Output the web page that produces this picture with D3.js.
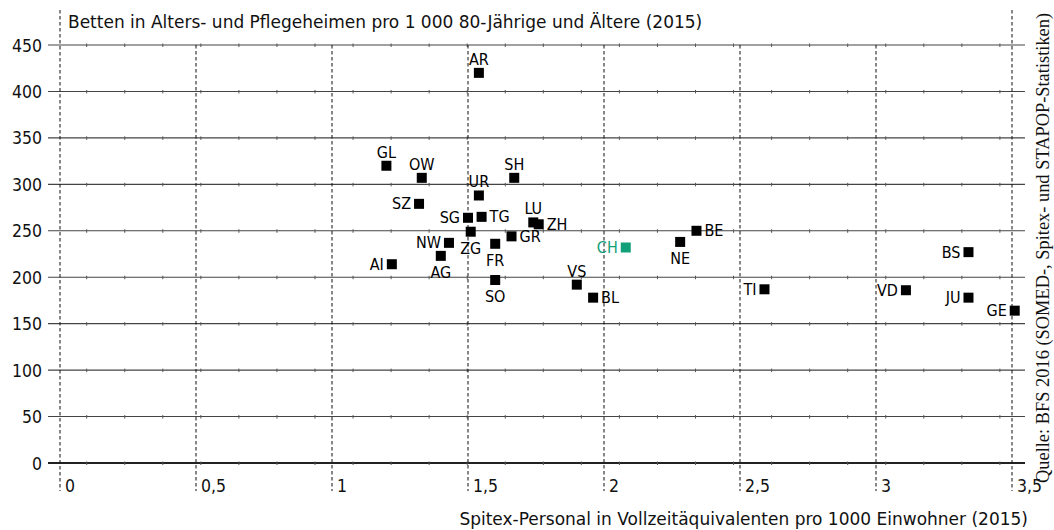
<!DOCTYPE html>
<html>
<head>
<meta charset="utf-8">
<script src="https://cdn.jsdelivr.net/npm/d3@7"></script>
<style>
  body { margin: 0; background: #fff; }
  svg { display: block; }
  text { font-family: "DejaVu Sans Condensed", "DejaVu Sans", sans-serif; fill: #111; }
</style>
</head>
<body>
<div id="chart"></div>
<script>
// Daten (Kantone)
const kantone = ["AR","GL","OW","SH","UR","SZ","SG","TG","LU","ZH","ZG","GR","NW","FR","CH","AG","AI","SO","VS","BL","BE","NE","TI","BS","VD","JU","GE"];
const spitex  = [1.54,1.20,1.33,1.67,1.54,1.32,1.50,1.55,1.74,1.76,1.51,1.66,1.43,1.60,2.08,1.40,1.22,1.60,1.90,1.96,2.34,2.28,2.59,3.34,3.11,3.34,3.51];
const betten  = [420,320,307,307,288,279,264,265,259,257,249,244,237,236,232,223,214,197,192,178,250,238,187,227,186,178,164];
// wo steht die Beschriftung (t = oben, b = unten, l = links, r = rechts)
const lage    = ["t","t","t","t","t","l","l","r","t","r","b","r","l","b","l","b","l","b","t","r","r","b","l","l","l","l","l"];

const xTicks = [0, 0.5, 1, 1.5, 2, 2.5, 3, 3.5];
const yTicks = [0, 50, 100, 150, 200, 250, 300, 350, 400, 450];

const titelY = "Betten in Alters- und Pflegeheimen pro 1 000 80-Jährige und Ältere (2015)";
const titelX = "Spitex-Personal in Vollzeitäquivalenten pro 1000 Einwohner (2015)";
const quelle = "Quelle: BFS 2016 (SOMED-, Spitex- und STAPOP-Statistiken)";

const largeur = 1054, hauteur = 530;
const svg = d3.select("#chart").append("svg")
  .attr("width", largeur).attr("height", hauteur);

const x = d3.scaleLinear().domain([0, 3.5]).range([60, 1012]);
const y = d3.scaleLinear().domain([0, 450]).range([463, 45]);
const fmt = d => String(d).replace(".", ",");

// horizontale Linien
const gridY = svg.append("g");
gridY.selectAll("line").data(yTicks).join("line")
  .attr("x1", 48).attr("x2", 1025)
  .attr("y1", d => y(d)).attr("y2", d => y(d))
  .attr("stroke", d => d === 0 ? "#222" : "#444")
  .attr("stroke-width", d => d === 0 ? 1.8 : 1.1);

// kleine Striche auf den Linien
const striche = d3.range(86.7, 1025, 38.05);
yTicks.forEach(t => {
  gridY.append("g").selectAll("line").data(striche).join("line")
    .attr("x1", d => d).attr("x2", d => d)
    .attr("y1", y(t) - 1.5).attr("y2", y(t) + 2)
    .attr("stroke", "#555").attr("stroke-width", 1);
});

// vertikale gestrichelte Linien
svg.append("g").selectAll("line").data(xTicks).join("line")
  .attr("x1", d => x(d)).attr("x2", d => x(d))
  .attr("y1", d => (d === 0 || d === 3.5) ? 10 : y(450))
  .attr("y2", 491)
  .attr("stroke", "#111").attr("stroke-width", 1)
  .attr("stroke-dasharray", "3.5,2.5");

// Achsenbeschriftung
svg.append("g").selectAll("text").data(yTicks).join("text")
  .attr("x", 42).attr("y", d => y(d) + 6.5)
  .attr("text-anchor", "end")
  .style("font-size", "17.5px")
  .text(d => d);

svg.append("g").selectAll("text").data(xTicks).join("text")
  .attr("x", d => x(d) + 5).attr("y", 492)
  .style("font-size", "17.5px")
  .text(fmt);

svg.append("text")
  .attr("x", 68).attr("y", 28)
  .style("font-family", "'DejaVu Sans', sans-serif")
  .style("font-size", "17px")
  .text(titelY);

svg.append("text")
  .attr("x", 1028).attr("y", 525)
  .attr("text-anchor", "end")
  .style("font-family", "'DejaVu Sans', sans-serif")
  .style("font-size", "17px")
  .text(titelX);

// Quelle, senkrecht am rechten Rand
svg.append("text")
  .attr("transform", "translate(1049,483) rotate(-90)")
  .attr("text-anchor", "start")
  .style("font-family", "'Liberation Serif', 'Times New Roman', serif")
  .style("font-size", "18.4px")
  .text(quelle);

// Punkte
const donnees = kantone.map((k, i) => ({ k, sx: spitex[i], b: betten[i], pos: lage[i] }));
const farbe = d => d.k === "CH" ? "#12a078" : "#000";

svg.append("g").selectAll("rect").data(donnees).join("rect")
  .attr("x", d => x(d.sx) - 5).attr("y", d => y(d.b) - 5)
  .attr("width", 10).attr("height", 10)
  .attr("fill", farbe);

svg.append("g").selectAll("text").data(donnees).join("text")
  .attr("x", d => d.pos === "l" ? x(d.sx) - 8 : d.pos === "r" ? x(d.sx) + 8 : x(d.sx))
  .attr("y", d => d.pos === "t" ? y(d.b) - 8 : d.pos === "b" ? y(d.b) + 22 : y(d.b) + 5.5)
  .attr("text-anchor", d => d.pos === "l" ? "end" : d.pos === "r" ? "start" : "middle")
  .style("font-size", "16px")
  .style("fill", farbe)
  .text(d => d.k);
</script>
</body>
</html>
